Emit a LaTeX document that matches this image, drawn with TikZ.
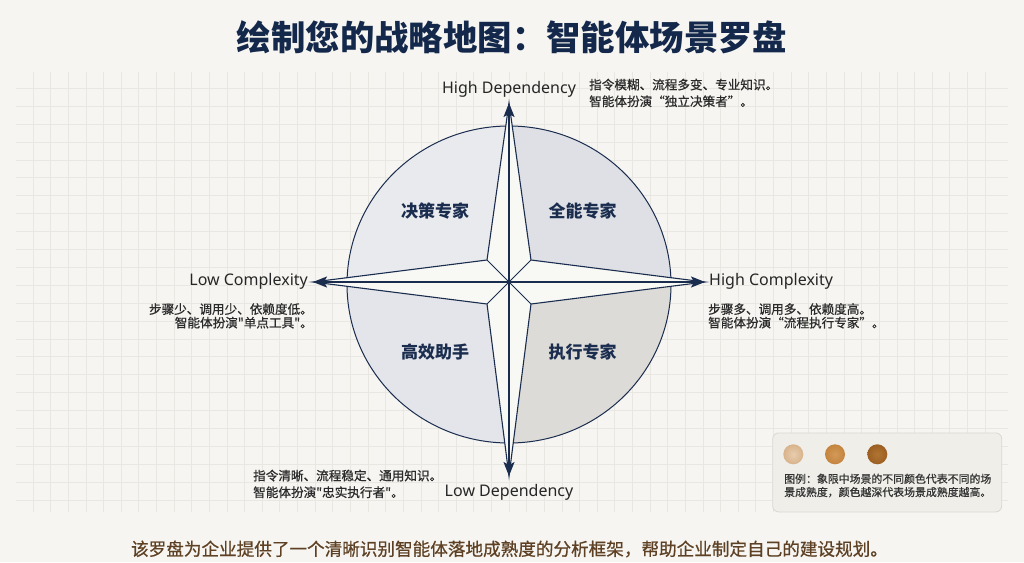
\documentclass[tikz,border=0pt]{standalone}
\usepackage{fontspec}
\setmainfont{Noto Sans}
\newfontfamily\cjk{Noto Sans CJK SC}
\newfontfamily\cjkmed[FakeBold=0.7]{Noto Sans CJK SC}
\usetikzlibrary{arrows.meta}
\definecolor{bg}{HTML}{F6F5F1}
\definecolor{gridc}{HTML}{E8E7E2}
\definecolor{navy}{HTML}{1B2D4F}
\definecolor{titlec}{HTML}{13284A}
\definecolor{qnw}{HTML}{E9EAEE}
\definecolor{qne}{HTML}{DEE0E5}
\definecolor{qsw}{HTML}{E3E5EA}
\definecolor{qse}{HTML}{DCDBD7}
\definecolor{starc}{HTML}{F8F8F5}
\definecolor{descc}{HTML}{2B2B2B}
\definecolor{brownc}{HTML}{5E4124}
\definecolor{legfill}{HTML}{EFEEE9}
\definecolor{legdraw}{HTML}{D9D8D2}
\definecolor{dotA}{HTML}{D8B38B}
\definecolor{dotAi}{HTML}{E8CDAE}
\definecolor{dotB}{HTML}{C4843E}
\definecolor{dotBi}{HTML}{D39A58}
\definecolor{dotC}{HTML}{9C5F22}
\definecolor{dotCi}{HTML}{B07432}
\tikzset{
  gridline/.style={draw=gridc, line width=0.7pt},
  axis/.style={draw=navy, line width=1.3pt,
    {Stealth[length=14pt,width=11pt,inset=3pt]}-{Stealth[length=14pt,width=11pt,inset=3pt]}},
  axlab/.style={font=\fontsize{16}{19}\selectfont, text=black!85, inner sep=0pt},
  desc/.style={text=descc, inner sep=0pt},
  quad/.style={font=\cjk\bfseries\fontsize{17}{20}\selectfont, text=navy, inner sep=0pt},
  starline/.style={draw=navy, line width=1.1pt, line join=miter},
}
\begin{document}
\begin{tikzpicture}[x=1pt,y=-1pt]
\fill[bg] (0,0) rectangle (1024,562);
\useasboundingbox (0,0) rectangle (1024,562);
% grid
\foreach \i in {0,...,54} \draw[gridline] ({33+17.63*\i},72) -- ({33+17.63*\i},512);
\foreach \j in {0,...,23} \draw[gridline] (16,{88.3+17.9*\j}) -- (1008,{88.3+17.9*\j});
% title
\node[font=\cjk\bfseries\fontsize{34.4}{40}\selectfont, text=titlec, inner sep=0pt] (title) at (512,37) {绘制您的战略地图：智能体场景罗盘};
% coordinates
\coordinate (C) at (509,282);
\coordinate (T) at (509,103);
\coordinate (B) at (509,476);
\coordinate (L) at (313,282);
\coordinate (R) at (705,282);
\coordinate (iNW) at (487,260);
\coordinate (iNE) at (531,260);
\coordinate (iSE) at (531,304);
\coordinate (iSW) at (487,304);
\coordinate (O) at (509,284.5);
% quadrants
\begin{scope}
\clip (O) ellipse[x radius=162, y radius=158.5];
\fill[qnw] (300,100) rectangle (C);
\fill[qne] (720,100) rectangle (C);
\fill[qsw] (300,480) rectangle (C);
\fill[qse] (720,480) rectangle (C);
\end{scope}
\draw[navy, line width=1pt] (O) ellipse[x radius=162, y radius=158.5];
% star
\fill[starc] (T) -- (iNE) -- (R) -- (iSE) -- (B) -- (iSW) -- (L) -- (iNW) -- cycle;
\draw[starline] (T) -- (iNE) -- (R) -- (iSE) -- (B) -- (iSW) -- (L) -- (iNW) -- cycle;
\draw[navy, line width=1pt] (iNW) -- (iSE);
\draw[navy, line width=1pt] (iNE) -- (iSW);
\draw[axis] (B) -- (T);
\draw[axis] (L) -- (R);
\fill[navy] (C) circle[radius=2.2];
% quadrant labels
\node[quad] (q1) at (435,211) {决策专家};
\node[quad] (q2) at (582.5,211) {全能专家};
\node[quad] (q3) at (435,352) {高效助手};
\node[quad] (q4) at (582.5,352) {执行专家};
% axis labels
\node[axlab] (hd) at (509,89) {High Dependency};
\node[axlab] (ld) at (509,492) {Low Dependency};
\node[axlab, anchor=east] (lc) at (308,281) {Low Complexity};
\node[axlab, anchor=west] (hc) at (709,281) {High Complexity};
% descriptions
\node[desc, anchor=north west, align=left, font=\cjkmed\fontsize{12.6}{16.7}\selectfont] (d1) at (589,78.5) {指令模糊、流程多变、专业知识。\\智能体扮演“独立决策者”。};
\node[desc, anchor=north east, align=right, font=\cjkmed\fontsize{12.6}{13.6}\selectfont] (d2) at (313,303) {步骤少、调用少、依赖度低。\\智能体扮演"单点工具"。};
\node[desc, anchor=north west, align=left, font=\cjkmed\fontsize{12.6}{13.6}\selectfont] (d3) at (708,303) {步骤多、调用多、依赖度高。\\智能体扮演“流程执行专家”。};
\node[desc, anchor=north west, align=left, font=\cjkmed\fontsize{12.6}{16.7}\selectfont] (d4) at (253,469.5) {指令清晰、流程稳定、通用知识。\\智能体扮演"忠实执行者"。};
% legend
\node[draw=legdraw, fill=legfill, line width=0.8pt, rounded corners=6pt, minimum width=229pt, minimum height=79pt, inner sep=0pt] (leg) at (887.2,472.4) {};
\shade[inner color=dotAi, outer color=dotA] (793.3,454.3) circle[radius=10];
\shade[inner color=dotBi, outer color=dotB] (835,454.3) circle[radius=10];
\shade[inner color=dotCi, outer color=dotC] (877.3,454.3) circle[radius=10];
\node[desc, anchor=north west, align=left, font=\cjkmed\fontsize{10.9}{13.3}\selectfont, text=black!80] (legtxt) at (784,473.5) {图例：象限中场景的不同颜色代表不同的场\\景成熟度，颜色越深代表场景成熟度越高。};
% bottom text
\node[font=\cjkmed\fontsize{17.6}{20}\selectfont, text=brownc, inner sep=0pt] (foot) at (509.5,549) {该罗盘为企业提供了一个清晰识别智能体落地成熟度的分析框架，帮助企业制定自己的建设规划。};
\end{tikzpicture}
\end{document}
